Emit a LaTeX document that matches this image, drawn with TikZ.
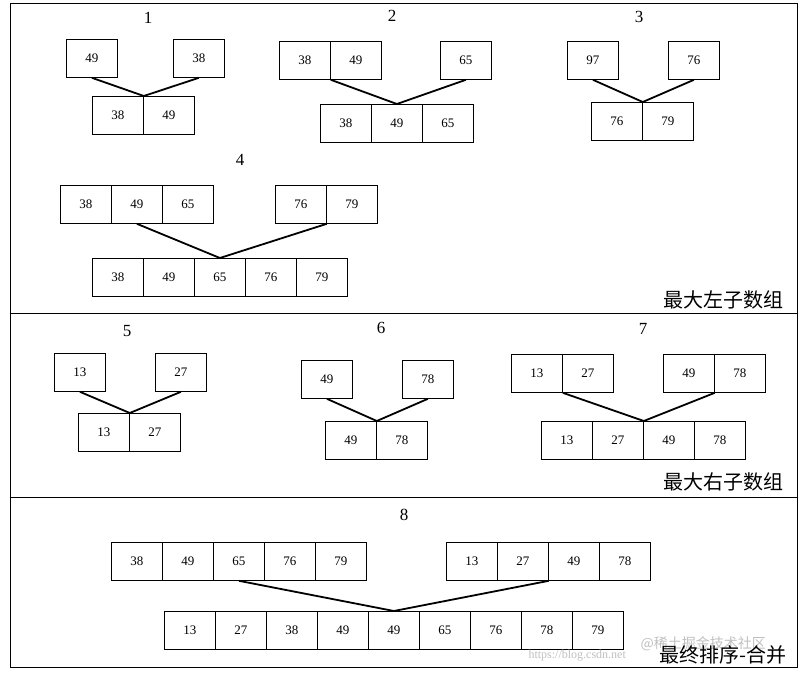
\documentclass[tikz,border=0pt]{standalone}
\usepackage{fontspec}
\setmainfont{Liberation Serif}
\newfontfamily\cjk{Noto Sans CJK SC}
\tikzset{cell/.style={draw,thick,minimum width=51pt,minimum height=38pt,inner sep=0pt,anchor=north west,font=\fontsize{13}{13}\selectfont},
  link/.style={line width=1.8pt},
  lbl/.style={font=\fontsize{17}{17}\selectfont},
  captxt/.style={font=\cjk\fontsize{20}{20}\selectfont,anchor=east},
  wm/.style={font=\fontsize{12}{12}\selectfont,text=black!25}}
\newcommand{\cellrow}[4]{% name, x, y, list
  \foreach \v [count=\i] in {#4}{\node[cell] (#1-\i) at ({#2+(\i-1)*51},#3) {\v};}}
\begin{document}
\begin{tikzpicture}[x=1pt,y=-1pt]
\useasboundingbox (0,0) rectangle (807,675);
\draw[thick] (10,3) rectangle (797,667);
\draw[thick] (10,313) -- (797,313);
\draw[thick] (10,497) -- (797,497);
% labels
\node[lbl] (l1) at (148,18) {1};
\node[lbl] (l2) at (392,16) {2};
\node[lbl] (l3) at (639,17) {3};
\node[lbl] (l4) at (240,160) {4};
\node[lbl] (l5) at (127,331) {5};
\node[lbl] (l6) at (381,328) {6};
\node[lbl] (l7) at (643,329) {7};
\node[lbl] (l8) at (404,515) {8};
% group 1
\cellrow{a}{66}{39}{49}
\cellrow{b}{173}{39}{38}
\cellrow{c}{92}{96}{38,49}
\draw[link] (a-1.south) -- (c-1.north east) -- (b-1.south);
% group 2
\cellrow{d}{279}{41}{38,49}
\cellrow{e}{440}{41}{65}
\cellrow{f}{320}{104}{38,49,65}
\draw[link] (d-1.south east) -- (f-2.north) -- (e-1.south);
% group 3
\cellrow{g}{567}{41}{97}
\cellrow{h}{668}{41}{76}
\cellrow{k}{591}{102}{76,79}
\draw[link] (g-1.south) -- (k-1.north east) -- (h-1.south);
% group 4
\cellrow{m}{60}{185}{38,49,65}
\cellrow{n}{275}{185}{76,79}
\cellrow{p}{92}{258}{38,49,65,76,79}
\draw[link] (m-2.south) -- (p-3.north) -- (n-1.south east);
\node[captxt] (cl) at (787,300) {最大左子数组};
% group 5
\cellrow{q}{54}{353}{13}
\cellrow{r}{155}{353}{27}
\cellrow{s}{78}{413}{13,27}
\draw[link] (q-1.south) -- (s-1.north east) -- (r-1.south);
% group 6
\cellrow{t}{301}{360}{49}
\cellrow{u}{402}{360}{78}
\cellrow{v}{325}{421}{49,78}
\draw[link] (t-1.south) -- (v-1.north east) -- (u-1.south);
% group 7
\cellrow{w}{511}{354}{13,27}
\cellrow{xx}{663}{354}{49,78}
\cellrow{yy}{541}{421}{13,27,49,78}
\draw[link] (w-1.south east) -- (yy-2.north east) -- (xx-1.south east);
\node[captxt] (cr) at (787,482) {最大右子数组};
% group 8
\cellrow{aa}{111}{542}{38,49,65,76,79}
\cellrow{bb}{446}{542}{13,27,49,78}
\cellrow{cc}{164}{611}{13,27,38,49,49,65,76,78,79}
\draw[link] (aa-3.south) -- (cc-5.north) -- (bb-2.south east);
\node[wm,anchor=west] (wm2) at (525,656) {https://blog.csdn.net};
\node[wm,anchor=west,font=\cjk\fontsize{14}{14}\selectfont] (wm1) at (637,644) {@稀土掘金技术社区};
\node[captxt] (cf) at (790,655) {最终排序-合并};
\end{tikzpicture}
\end{document}
